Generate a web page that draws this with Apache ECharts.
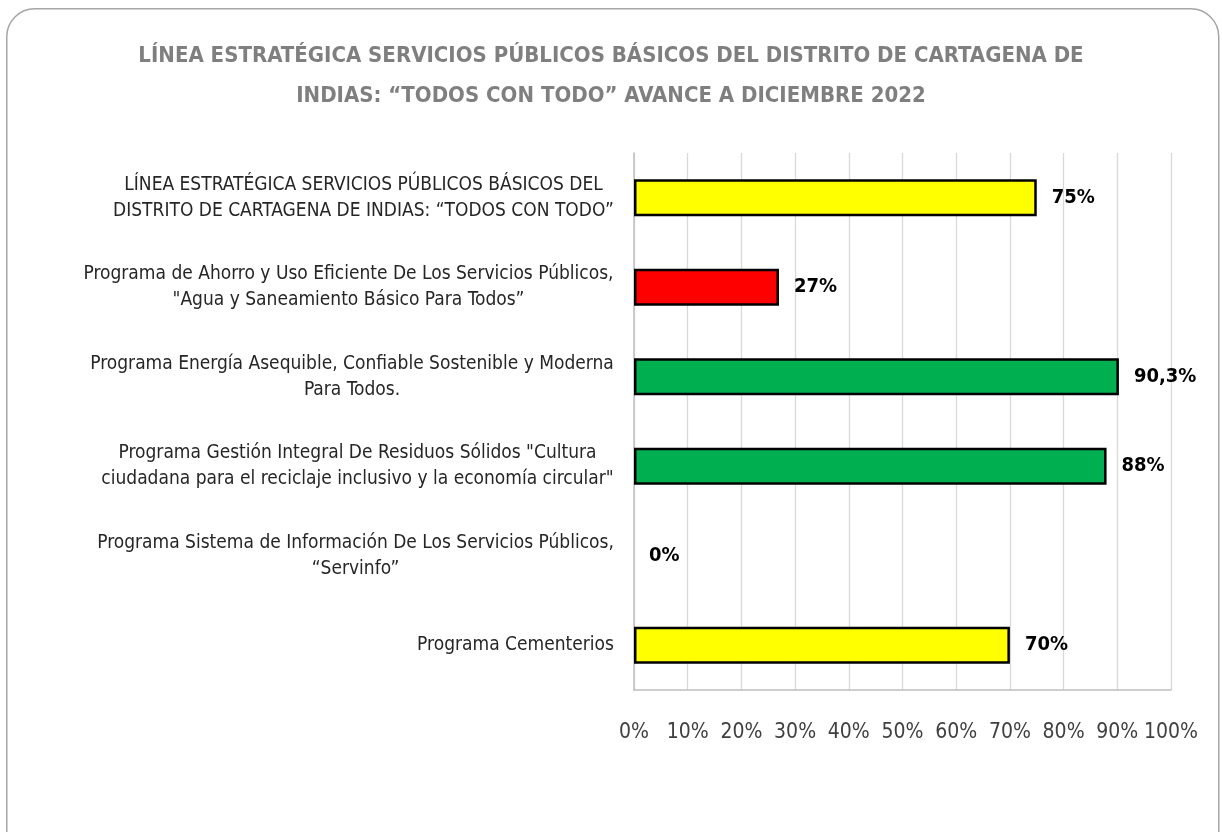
<!DOCTYPE html>
<html><head><meta charset="utf-8">
<script src="https://cdn.jsdelivr.net/npm/echarts@6/dist/echarts.min.js"></script>
<style>html,body{margin:0;padding:0;background:#fff}#c{width:1222px;height:832px}</style>
</head><body><div id="c"></div>
<script>
const titleLines = ['LÍNEA ESTRATÉGICA SERVICIOS PÚBLICOS BÁSICOS DEL DISTRITO DE CARTAGENA DE', 'INDIAS: “TODOS CON TODO” AVANCE A DICIEMBRE 2022'];
const categories = [
  'LÍNEA ESTRATÉGICA SERVICIOS PÚBLICOS BÁSICOS DEL\nDISTRITO DE CARTAGENA DE INDIAS: “TODOS CON TODO”',
  'Programa de Ahorro y Uso Eficiente De Los Servicios Públicos,\n"Agua y Saneamiento Básico Para Todos”',
  'Programa Energía Asequible, Confiable Sostenible y Moderna\nPara Todos.',
  'Programa Gestión Integral De Residuos Sólidos "Cultura\nciudadana para el reciclaje inclusivo y la economía circular"',
  'Programa Sistema de Información De Los Servicios Públicos,\n“Servinfo”',
  'Programa Cementerios'
];
const values = [75, 27, 90.3, 88, 0, 70];
const xTicks = [0, 10, 20, 30, 40, 50, 60, 70, 80, 90, 100];

const barColors = ['#FFFF00', '#FF0000', '#00B050', '#00B050', '#00B050', '#FFFF00'];
const FONT = '"Liberation Sans Narrow", "DejaVu Sans Condensed", "Open Sans", sans-serif';
const catFontSize = 19;

// measure widths so each label's lines are centred within a right-aligned block
const cv = document.createElement('canvas').getContext('2d');
cv.font = catFontSize + 'px ' + FONT;
const rich = {};
const formatted = categories.map((c, i) => {
  const lines = c.split('\n');
  const w = Math.ceil(Math.max(...lines.map(l => cv.measureText(l).width))) + 2;
  rich['c' + i] = { width: w, align: 'center', fontSize: catFontSize, fontFamily: FONT, color: '#262626', lineHeight: 26 };
  return lines.map(l => '{c' + i + '|' + l + '}').join('\n');
});

const chart = echarts.init(document.getElementById('c'), null, { renderer: 'canvas' });
chart.setOption({
  animation: false,
  backgroundColor: '#fff',
  title: {
    text: titleLines.join('\n'),
    left: 'center', top: 31,
    textStyle: { fontFamily: FONT, fontSize: 22, fontWeight: 'bold', color: '#7F7F7F', lineHeight: 40 }
  },
  graphic: [{
    type: 'rect', left: 6, top: 8, z: -1,
    shape: { width: 1212, height: 850, r: 28 },
    style: { fill: '#fff', stroke: '#A6A6A6', lineWidth: 1.5 }
  }],
  grid: { left: 634, right: 51, top: 153, bottom: 142, containLabel: false },
  xAxis: {
    type: 'value', min: 0, max: 100, interval: 10,
    axisLine: { show: true, lineStyle: { color: '#BFBFBF', width: 1.5 } },
    axisTick: { show: false },
    splitLine: { show: true, lineStyle: { color: '#D9D9D9', width: 1.3 } },
    axisLabel: { margin: 32, fontFamily: FONT, fontSize: 21, color: '#404040', formatter: v => xTicks.includes(v) ? v + '%' : '' }
  },
  yAxis: {
    type: 'category', inverse: true, data: formatted,
    axisLine: { show: true, lineStyle: { color: '#BFBFBF', width: 1.5 } },
    axisTick: { show: false },
    axisLabel: { margin: 19, align: 'right', rich: rich, interval: 0 }
  },
  series: [{
    type: 'bar',
    data: values.map((v, i) => ({ value: v, itemStyle: { color: barColors[i], borderWidth: v === 0 ? 0 : 2.5 } })),
    barWidth: 37,
    itemStyle: { borderColor: '#000', borderWidth: 2.5 },
    label: {
      show: true, position: 'right', distance: 15,
      fontFamily: FONT, fontSize: 20, fontWeight: 'bold', color: '#000',
      formatter: p => String(p.value).replace('.', ',') + '%'
    }
  }]
});
</script></body></html>
